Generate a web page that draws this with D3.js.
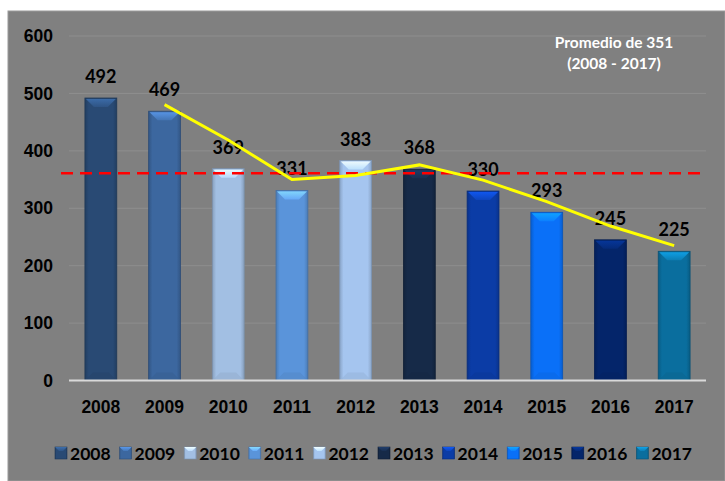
<!DOCTYPE html>
<html>
<head>
<meta charset="utf-8">
<script src="https://cdn.jsdelivr.net/npm/d3@7"></script>
<style>
  body { margin: 0; background: #fff; }
  svg { display: block; font-family: Lato, "Liberation Sans", sans-serif; }
</style>
</head>
<body>
<script>
// chart data
var years = ["2008", "2009", "2010", "2011", "2012", "2013", "2014", "2015", "2016", "2017"];
var values = [492, 469, 369, 331, 383, 368, 330, 293, 245, 225];
var barColors = ["#294a74", "#3c679f", "#a2bfe3", "#5a94da", "#a5c5ef",
                 "#162a48", "#0b3ca6", "#0a70f8", "#04256a", "#0a6e9e"];
// yellow trend line (2-year moving average, starts at 2009)
var trendYears = ["2009", "2010", "2011", "2012", "2013", "2014", "2015", "2016", "2017"];
var trendValues = [480.5, 419, 350, 357, 375.5, 349, 311.5, 269, 235];
var avgLineValue = 361;
var yTicks = [0, 100, 200, 300, 400, 500, 600];
var noteLines = ["Promedio de 351", "(2008 - 2017)"];

var W = 725, H = 481;
var svg = d3.select("body").append("svg").attr("width", W).attr("height", H);

// gray panel
svg.append("rect").attr("x", 8).attr("y", 11).attr("width", W - 8).attr("height", H - 11)
    .style("fill", "#808080").style("stroke", "#9a9a9a").style("stroke-width", 1);

var x = d3.scaleBand().domain(years).range([69, 706]).paddingInner(0.5).paddingOuter(0.25);
var y = d3.scaleLinear().domain([0, 600]).range([380.5, 36]);

// gridlines
svg.append("g").selectAll("line").data(yTicks.slice(1)).enter().append("line")
    .attr("x1", 69).attr("x2", 706)
    .attr("y1", function(d) { return y(d); }).attr("y2", function(d) { return y(d); })
    .style("stroke", "#8e8e8e").style("stroke-width", 1);

// y axis labels
var yAxis = d3.axisLeft(y).tickValues(yTicks).tickSize(0).tickPadding(16);
var yg = svg.append("g").attr("transform", "translate(69,0)").call(yAxis);
yg.select(".domain").remove();
yg.selectAll("text").style("font-size", "17.5px").style("font-weight", "bold")
    .style("fill", "#000").attr("font-family", null);

// gradients for bars
var defs = svg.append("defs");
barColors.forEach(function(c, i) {
    var g = defs.append("linearGradient").attr("id", "bg" + i)
        .attr("x1", "0").attr("x2", "1").attr("y1", "0").attr("y2", "0");
    var base = d3.color(c);
    g.append("stop").attr("offset", "0").attr("stop-color", base.darker(0.5));
    g.append("stop").attr("offset", "0.12").attr("stop-color", base);
    g.append("stop").attr("offset", "0.88").attr("stop-color", base);
    g.append("stop").attr("offset", "1").attr("stop-color", base.darker(0.5));
    var t = defs.append("linearGradient").attr("id", "tg" + i)
        .attr("x1", "0").attr("x2", "0").attr("y1", "0").attr("y2", "1");
    t.append("stop").attr("offset", "0").attr("stop-color", base.brighter(1.1));
    t.append("stop").attr("offset", "1").attr("stop-color", base.brighter(0.4));
});

var bars = svg.append("g").selectAll("g").data(values).enter().append("g");
var bw = x.bandwidth();

bars.append("rect")
    .attr("x", function(d, i) { return x(years[i]); })
    .attr("y", function(d) { return y(d); })
    .attr("width", bw)
    .attr("height", function(d) { return y(0) - y(d); })
    .style("fill", function(d, i) { return "url(#bg" + i + ")"; })
    .style("stroke", function(d, i) { return d3.color(barColors[i]).darker(0.8); })
    .style("stroke-width", 0.8);

// top bevel
bars.append("path")
    .attr("d", function(d, i) {
        var x0 = x(years[i]) + 1, y0 = y(d) + 1, b = 8, w = bw - 2;
        return "M" + x0 + "," + y0 + "L" + (x0 + w) + "," + y0 +
            "L" + (x0 + w - b) + "," + (y0 + b) + "L" + (x0 + b) + "," + (y0 + b) + "Z";
    })
    .style("fill", function(d, i) { return "url(#tg" + i + ")"; })
    .style("opacity", 0.9);

// bottom bevel (faint)
bars.append("path")
    .attr("d", function(d, i) {
        var x0 = x(years[i]), y0 = y(0), b = 8;
        return "M" + x0 + "," + y0 + "L" + (x0 + bw) + "," + y0 +
            "L" + (x0 + bw - b) + "," + (y0 - b) + "L" + (x0 + b) + "," + (y0 - b) + "Z";
    })
    .style("fill", function(d, i) { return d3.color(barColors[i]).darker(0.3); })
    .style("opacity", 0.5);

// baseline
svg.append("line").attr("x1", 69).attr("x2", 706).attr("y1", y(0)).attr("y2", y(0))
    .style("stroke", "#d9d9d9").style("stroke-width", 2);

// value labels
svg.append("g").selectAll("text").data(values).enter().append("text")
    .attr("x", function(d, i) { return x(years[i]) + bw / 2; })
    .attr("y", function(d) { return y(d) - 15; })
    .attr("text-anchor", "middle")
    .style("font-size", "18px").style("font-weight", "bold").style("fill", "#000")
    .text(function(d) { return d; });

// average dashed line
svg.append("line").attr("x1", 61).attr("x2", 704)
    .attr("y1", y(avgLineValue)).attr("y2", y(avgLineValue))
    .style("stroke", "#ff0000").style("stroke-width", 2.5).style("stroke-dasharray", "12,7");

// trend line
var line = d3.line()
    .x(function(d, i) { return x(trendYears[i]) + bw / 2; })
    .y(function(d) { return y(d); });
svg.append("path").datum(trendValues).attr("d", line)
    .style("fill", "none").style("stroke", "#ffff00").style("stroke-width", 3);

// x axis labels
var xAxis = d3.axisBottom(x).tickSize(0).tickPadding(20);
var xg = svg.append("g").attr("transform", "translate(0," + y(0) + ")").call(xAxis);
xg.select(".domain").remove();
xg.selectAll("text").style("font-size", "17.5px").style("font-weight", "bold")
    .style("fill", "#000").attr("font-family", null);

// note
svg.append("g").selectAll("text").data(noteLines).enter().append("text")
    .attr("x", 614).attr("y", function(d, i) { return 48 + i * 21; })
    .attr("text-anchor", "middle")
    .style("font-size", "15.5px").style("font-weight", "bold").style("fill", "#fff")
    .text(function(d) { return d; });

// legend
var legend = svg.append("g").selectAll("g").data(years).enter().append("g")
    .attr("transform", function(d, i) { return "translate(" + (55 + i * 64.6) + ",447)"; });
legend.append("rect").attr("width", 12).attr("height", 12)
    .style("fill", function(d, i) { return "url(#bg" + i + ")"; })
    .style("stroke", function(d, i) { return d3.color(barColors[i]).darker(0.8); })
    .style("stroke-width", 0.6);
legend.append("path")
    .attr("d", "M0,0L12,0L8,4L4,4Z")
    .style("fill", function(d, i) { return "url(#tg" + i + ")"; });
legend.append("text").attr("x", 15).attr("y", 12.5)
    .style("font-size", "17.5px").style("font-weight", "bold").style("fill", "#000")
    .text(function(d) { return d; });
</script>
</body>
</html>
